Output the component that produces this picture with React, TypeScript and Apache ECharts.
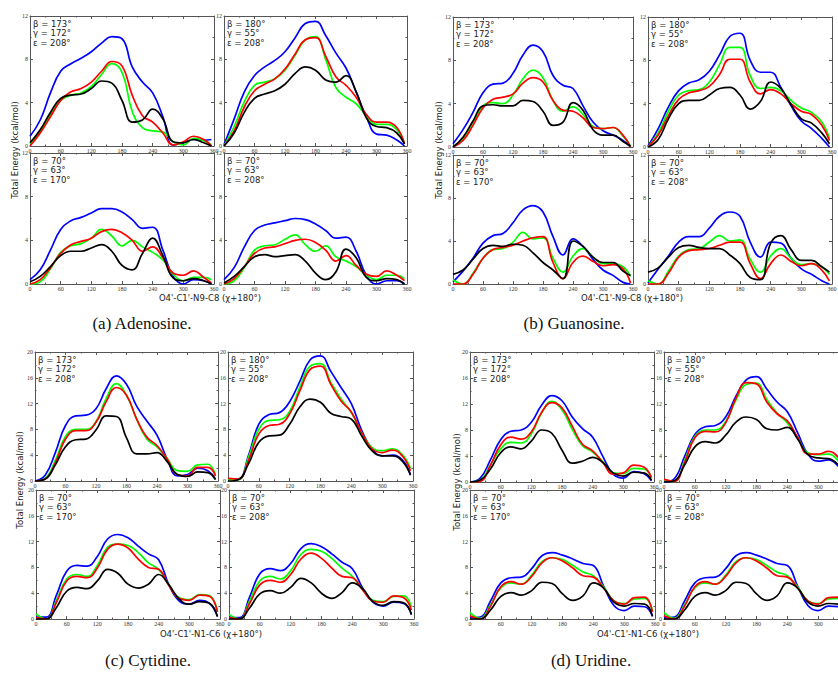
import React, { useEffect, useRef } from "react";
import * as echarts from "echarts";

// x positions (degrees, chi+180)
const chi = [0, 20, 40, 60, 80, 100, 120, 140, 160, 180, 200, 220, 240, 260, 280, 300, 320, 340, 355];

// ---------- (a) Adenosine ----------
const aTLBlue = [0.9, 2.4, 4.9, 6.9, 7.6, 8.1, 8.7, 9.5, 10.1, 9.9, 7.3, 5.9, 4.9, 2.7, 0.1, 0.3, 0.6, 0.55, 0.6];
const aTLGreen = [0.2, 1.3, 2.9, 4.2, 4.7, 4.9, 5.5, 6.6, 7.6, 6.8, 3.2, 1.7, 1.4, 1.3, 0.4, 0.1, 0.7, 0.5, 0.1];
const aTLRed = [0.0, 1.2, 2.7, 4.2, 5.0, 5.3, 5.9, 6.9, 7.8, 7.4, 4.7, 2.8, 2.2, 1.2, 0.1, 0.4, 0.9, 0.6, 0.0];
const aTLBlack = [0.3, 1.5, 3.1, 4.4, 4.7, 4.8, 5.3, 6.0, 5.8, 4.2, 2.2, 2.4, 3.4, 2.5, 0.4, 0.3, 0.6, 0.3, 0.0];

const aTRBlue = [0.1, 2.5, 5.0, 6.5, 7.3, 7.9, 8.7, 10.0, 11.3, 11.5, 10.2, 8.6, 7.2, 5.0, 2.7, 1.1, 1.0, 0.55, 0.0];
const aTRGreen = [0.0, 1.8, 4.1, 5.6, 5.9, 6.2, 7.0, 8.4, 9.8, 10.1, 8.0, 5.4, 4.5, 3.9, 2.8, 2.0, 2.0, 1.5, 0.2];
const aTRRed = [0.0, 1.4, 3.6, 5.1, 5.7, 6.2, 7.1, 8.5, 9.8, 10.0, 8.3, 6.4, 5.6, 4.5, 2.9, 2.2, 2.2, 1.7, 0.2];
const aTRBlack = [0.0, 1.2, 3.1, 4.4, 4.8, 5.1, 5.7, 6.7, 7.3, 7.0, 6.1, 5.9, 6.5, 5.0, 2.6, 1.8, 1.7, 1.2, 0.2];

const aBLBlue = [0.4, 1.3, 3.1, 5.0, 5.8, 6.1, 6.5, 6.9, 6.9, 6.6, 5.9, 5.1, 5.2, 3.1, 0.7, 0.0, 0.4, 0.3, 0.0];
const aBLGreen = [0.0, 0.2, 1.4, 2.9, 3.5, 3.7, 4.2, 5.0, 4.4, 3.5, 4.0, 3.4, 2.9, 2.2, 0.9, 0.3, 0.6, 0.6, 0.4];
const aBLRed = [0.0, 0.4, 1.5, 2.8, 3.6, 3.9, 4.2, 4.8, 5.0, 4.7, 4.0, 3.0, 3.4, 2.4, 1.0, 0.8, 1.2, 0.6, 0.1];
const aBLBlack = [0.2, 0.7, 1.6, 2.6, 3.0, 3.0, 3.3, 3.6, 3.0, 1.7, 1.3, 2.8, 4.2, 2.6, 0.55, 0.3, 0.5, 0.3, 0.0];

const aBRBlue = [0.4, 1.5, 3.4, 4.9, 5.4, 5.6, 5.8, 6.0, 5.9, 5.5, 4.9, 4.2, 4.3, 3.0, 0.8, 0.0, 0.3, 0.3, 0.0];
const aBRGreen = [0.0, 0.3, 1.5, 3.1, 3.5, 3.6, 4.1, 4.5, 3.6, 3.0, 3.5, 2.5, 2.1, 1.6, 0.8, 0.4, 0.8, 0.8, 0.5];
const aBRRed = [0.0, 0.5, 1.6, 2.8, 3.3, 3.4, 3.7, 4.0, 4.1, 3.8, 3.1, 2.1, 2.6, 1.7, 0.9, 0.7, 1.2, 0.8, 0.3];
const aBRBlack = [0.1, 0.7, 1.6, 2.5, 2.7, 2.5, 2.6, 2.7, 2.1, 1.0, 0.4, 1.1, 3.2, 2.4, 0.6, 0.3, 0.5, 0.4, 0.0];

// ---------- (b) Guanosine ----------
const bTLBlue = [0.3, 1.6, 3.2, 5.0, 5.8, 5.9, 6.8, 8.5, 9.4, 8.8, 6.6, 5.7, 5.4, 3.8, 2.3, 1.5, 1.1, 0.6, 0.0];
const bTLGreen = [0.0, 0.8, 2.3, 3.8, 4.1, 4.0, 4.8, 6.3, 7.1, 6.4, 4.3, 3.3, 3.7, 3.0, 1.9, 1.7, 1.8, 1.0, 0.1];
const bTLRed = [0.0, 0.6, 2.0, 3.6, 4.4, 4.6, 4.9, 5.9, 6.4, 6.0, 4.3, 3.4, 3.3, 2.7, 1.8, 1.7, 1.8, 1.1, 0.0];
const bTLBlack = [0.0, 0.9, 2.4, 3.8, 3.9, 3.8, 3.8, 4.3, 4.2, 3.3, 2.0, 2.3, 4.1, 3.4, 1.6, 1.1, 1.1, 0.5, 0.1];

const bTRBlue = [0.1, 1.7, 3.7, 5.2, 5.9, 6.2, 7.0, 8.5, 10.2, 10.5, 8.0, 6.9, 6.9, 5.5, 3.8, 2.4, 1.7, 0.8, 0.0];
const bTRGreen = [0.0, 1.3, 3.3, 4.8, 5.2, 5.3, 6.0, 7.6, 9.2, 9.2, 6.6, 5.4, 5.5, 5.2, 4.3, 3.6, 3.2, 2.3, 0.8];
const bTRRed = [0.0, 1.1, 2.9, 4.4, 5.0, 5.2, 5.6, 6.7, 8.1, 8.1, 6.0, 4.9, 5.3, 4.9, 4.0, 3.3, 3.0, 2.0, 0.6];
const bTRBlack = [0.0, 0.7, 2.6, 4.0, 4.3, 4.3, 4.8, 5.4, 5.5, 4.8, 3.5, 4.2, 6.0, 5.4, 3.9, 2.6, 2.2, 1.3, 0.3];

const bBLBlue = [0.2, 1.2, 2.4, 3.8, 4.5, 4.7, 5.7, 6.9, 7.3, 6.7, 4.4, 2.7, 4.2, 3.5, 2.3, 1.3, 0.8, 0.15, 0.0];
const bBLGreen = [0.4, 0.0, 1.0, 2.4, 3.2, 3.3, 3.9, 4.8, 4.2, 4.3, 2.4, 1.1, 2.6, 3.3, 2.5, 1.9, 1.9, 1.6, 0.7];
const bBLRed = [0.0, 0.0, 0.9, 2.4, 3.2, 3.4, 3.6, 4.0, 4.3, 4.4, 2.0, 0.5, 2.0, 2.6, 2.1, 1.7, 1.8, 1.4, 0.1];
const bBLBlack = [0.9, 1.3, 2.3, 3.3, 3.6, 3.5, 3.7, 3.6, 2.9, 2.0, 1.3, 0.5, 4.0, 3.5, 2.5, 2.0, 2.0, 1.2, 0.8];

const bBRBlue = [0.1, 1.4, 2.6, 3.9, 4.4, 4.4, 5.2, 6.3, 6.7, 6.3, 3.9, 2.5, 3.9, 3.8, 2.4, 1.4, 0.9, 0.3, 0.0];
const bBRGreen = [0.3, 0.0, 1.2, 2.6, 3.2, 3.3, 3.9, 4.5, 4.0, 4.1, 2.3, 1.1, 2.6, 3.3, 2.4, 1.8, 1.9, 1.6, 0.9];
const bBRRed = [0.0, 0.0, 1.0, 2.5, 3.1, 3.2, 3.3, 3.6, 3.9, 3.9, 1.9, 0.5, 1.9, 2.7, 2.1, 1.7, 1.9, 1.3, 0.3];
const bBRBlack = [1.1, 1.5, 2.5, 3.4, 3.6, 3.4, 3.3, 3.3, 2.7, 1.9, 0.6, 0.4, 3.8, 4.5, 3.2, 2.2, 2.2, 1.6, 1.1];

// ---------- (c) Cytidine ----------
const cTLBlue = [0.0, 0.9, 4.4, 8.6, 10.1, 10.2, 11.2, 14.3, 16.3, 15.0, 11.6, 9.3, 7.1, 3.4, 0.8, 1.0, 2.0, 1.6, 0.3];
const cTLGreen = [0.0, 0.4, 3.2, 6.9, 8.0, 8.0, 9.2, 12.8, 15.1, 13.3, 9.6, 6.5, 5.3, 3.5, 1.6, 1.5, 2.5, 2.6, 0.9];
const cTLRed = [0.0, 0.3, 2.8, 6.5, 7.8, 7.8, 9.1, 12.3, 14.5, 13.3, 9.6, 6.8, 5.5, 3.4, 1.0, 0.8, 2.1, 2.1, 0.8];
const cTLBlack = [0.0, 0.3, 2.5, 5.3, 6.4, 6.5, 7.9, 10.1, 10.0, 6.7, 4.2, 4.2, 4.4, 3.0, 1.0, 0.7, 1.4, 1.3, 0.2];

const cTRBlue = [0.3, 0.3, 4.0, 8.8, 10.3, 10.6, 12.3, 15.5, 18.8, 19.4, 17.0, 14.5, 12.0, 7.9, 5.0, 3.9, 4.0, 3.2, 1.0];
const cTRGreen = [0.2, 0.2, 3.7, 8.0, 9.4, 9.5, 10.8, 14.6, 17.8, 18.2, 15.3, 12.7, 10.6, 7.5, 5.2, 4.7, 5.0, 4.0, 2.0];
const cTRRed = [0.4, 0.3, 3.2, 7.3, 8.6, 8.8, 10.4, 14.0, 17.3, 17.8, 15.0, 12.4, 10.7, 7.5, 5.0, 4.4, 4.8, 3.8, 1.6];
const cTRBlack = [0.0, 0.2, 2.7, 6.0, 7.0, 7.1, 8.8, 11.5, 12.7, 12.2, 10.5, 10.0, 9.6, 7.0, 4.7, 3.9, 3.9, 3.0, 0.9];

const cBLBlue = [0.3, 0.3, 3.7, 7.4, 8.3, 8.2, 9.7, 12.4, 13.1, 12.6, 11.3, 10.1, 9.2, 5.3, 2.8, 2.3, 2.9, 2.4, 0.4];
const cBLGreen = [0.8, 0.0, 2.9, 6.2, 6.9, 6.6, 8.3, 11.1, 11.6, 11.4, 10.3, 8.7, 7.7, 5.3, 3.3, 3.0, 3.8, 3.6, 1.2];
const cBLRed = [0.2, 0.0, 2.6, 5.9, 6.6, 6.4, 7.9, 10.8, 11.6, 11.0, 9.3, 8.0, 7.7, 5.2, 3.2, 2.9, 3.7, 3.5, 1.1];
const cBLBlack = [0.0, 0.0, 1.8, 4.3, 4.9, 4.7, 5.9, 7.7, 7.1, 5.4, 4.8, 5.4, 6.9, 5.3, 3.1, 2.3, 2.7, 2.4, 0.4];

const cBRBlue = [0.3, 0.2, 3.4, 7.0, 7.8, 7.5, 8.6, 10.9, 11.7, 11.2, 10.1, 8.8, 7.8, 4.8, 2.6, 2.0, 2.6, 2.4, 0.7];
const cBRGreen = [0.7, 0.0, 2.8, 5.9, 6.6, 6.2, 7.5, 10.0, 10.8, 10.5, 9.4, 7.9, 6.6, 4.6, 2.9, 2.7, 3.5, 3.6, 1.9];
const cBRRed = [0.2, 0.0, 2.4, 5.3, 6.0, 5.7, 6.9, 9.3, 10.2, 9.4, 7.9, 6.6, 6.4, 4.5, 2.8, 2.6, 3.6, 3.3, 1.4];
const cBRBlack = [0.0, 0.0, 1.7, 3.9, 4.4, 4.0, 4.9, 6.3, 5.6, 4.0, 3.2, 4.1, 5.6, 4.7, 2.7, 2.1, 2.7, 2.5, 0.7];

// ---------- (d) Uridine ----------
const dTLBlue = [0.0, 0.6, 3.4, 6.5, 7.8, 8.0, 9.2, 11.8, 13.3, 12.5, 10.0, 8.2, 6.9, 3.9, 1.2, 0.6, 1.6, 1.3, 0.2];
const dTLGreen = [0.0, 0.3, 2.6, 5.1, 6.1, 6.0, 7.4, 10.6, 12.4, 11.1, 8.1, 5.6, 4.6, 3.1, 1.4, 1.3, 2.1, 2.0, 0.7];
const dTLRed = [0.0, 0.1, 2.6, 5.7, 6.9, 6.6, 7.7, 10.7, 12.2, 11.4, 8.6, 5.8, 4.8, 3.0, 1.2, 1.4, 2.6, 2.3, 0.7];
const dTLBlack = [0.0, 0.3, 2.0, 4.5, 5.4, 5.1, 6.3, 8.0, 7.5, 4.9, 2.9, 3.2, 3.8, 3.0, 1.4, 0.9, 1.5, 1.4, 0.3];

const dTRBlue = [0.0, 0.5, 3.9, 7.3, 8.5, 8.7, 10.0, 13.2, 15.7, 16.2, 14.3, 12.3, 10.8, 7.6, 4.3, 3.2, 3.4, 2.4, 1.0];
const dTRGreen = [0.3, 0.1, 3.3, 7.0, 8.0, 8.0, 9.3, 12.6, 15.0, 15.2, 12.7, 10.6, 9.1, 6.8, 4.5, 4.2, 4.3, 3.2, 1.5];
const dTRRed = [0.4, 0.1, 3.0, 6.8, 7.8, 7.7, 9.1, 12.9, 15.3, 15.1, 12.3, 10.5, 9.4, 6.9, 4.3, 4.3, 4.7, 3.7, 1.6];
const dTRBlack = [0.0, 0.2, 2.6, 5.4, 6.2, 6.0, 7.2, 9.2, 10.0, 9.6, 8.2, 8.0, 8.4, 6.6, 4.2, 3.7, 3.6, 2.6, 1.0];

const dBLBlue = [0.2, 0.3, 2.8, 5.6, 6.4, 6.5, 7.8, 9.8, 10.3, 9.9, 9.3, 8.6, 8.3, 5.1, 2.1, 1.3, 2.0, 1.9, 0.4];
const dBLGreen = [1.0, 0.1, 2.2, 4.8, 5.6, 5.4, 6.8, 8.9, 9.5, 9.2, 8.3, 7.3, 6.7, 5.0, 2.8, 2.4, 3.1, 3.2, 1.3];
const dBLRed = [0.5, 0.0, 2.0, 5.0, 5.8, 5.4, 6.6, 8.7, 9.5, 9.0, 7.9, 6.7, 6.5, 4.8, 2.8, 2.3, 3.3, 3.4, 1.1];
const dBLBlack = [0.0, 0.0, 1.4, 3.5, 4.1, 3.7, 4.4, 5.7, 5.5, 3.9, 2.9, 3.6, 5.6, 4.8, 2.6, 2.0, 2.4, 2.3, 0.5];

// the (d) lower-right plot repeats the lower-left one
const dBRBlue = dBLBlue;
const dBRGreen = dBLGreen;
const dBRRed = dBLRed;
const dBRBlack = dBLBlack;

// parameter labels
const labelTL = ["β = 173°", "γ = 172°", "ε = 208°"];
const labelTR = ["β = 180°", "γ = 55°", "ε = 208°"];
const labelBL = ["β = 70°", "γ = 63°", "ε = 170°"];
const labelBR = ["β = 70°", "γ = 63°", "ε = 208°"];

const COLORS = ["#0000ff", "#00ff00", "#ff0000", "#000000"];

type Sub = { rect: number[]; ymax: number; label: string[]; lines: number[][]; cut?: boolean };

const subs: Sub[] = [
  // (a)
  { rect: [30, 16, 184, 130], ymax: 12, label: labelTL, lines: [aTLBlue, aTLGreen, aTLRed, aTLBlack] },
  { rect: [224, 16, 183, 130], ymax: 12, label: labelTR, lines: [aTRBlue, aTRGreen, aTRRed, aTRBlack] },
  { rect: [30, 153, 184, 131], ymax: 12, label: labelBL, lines: [aBLBlue, aBLGreen, aBLRed, aBLBlack] },
  { rect: [224, 153, 183, 131], ymax: 12, label: labelBR, lines: [aBRBlue, aBRGreen, aBRRed, aBRBlack] },
  // (b)
  { rect: [453, 17, 180, 130], ymax: 12, label: labelTL, lines: [bTLBlue, bTLGreen, bTLRed, bTLBlack] },
  { rect: [648, 17, 184, 130], ymax: 12, label: labelTR, lines: [bTRBlue, bTRGreen, bTRRed, bTRBlack] },
  { rect: [453, 155, 180, 129], ymax: 12, label: labelBL, lines: [bBLBlue, bBLGreen, bBLRed, bBLBlack] },
  { rect: [648, 155, 184, 129], ymax: 12, label: labelBR, lines: [bBRBlue, bBRGreen, bBRRed, bBRBlack] },
  // (c)
  { rect: [35, 352, 183, 129], ymax: 20, label: labelTL, lines: [cTLBlue, cTLGreen, cTLRed, cTLBlack] },
  { rect: [228, 352, 185, 129], ymax: 20, label: labelTR, lines: [cTRBlue, cTRGreen, cTRRed, cTRBlack] },
  { rect: [36, 490, 184, 129], ymax: 20, label: labelBL, lines: [cBLBlue, cBLGreen, cBLRed, cBLBlack] },
  { rect: [229, 490, 185, 129], ymax: 20, label: labelBR, lines: [cBRBlue, cBRGreen, cBRRed, cBRBlack] },
  // (d)
  { rect: [470, 352, 184, 130], ymax: 20, label: labelTL, lines: [dTLBlue, dTLGreen, dTLRed, dTLBlack] },
  { rect: [664, 352, 185, 130], ymax: 20, label: labelTR, lines: [dTRBlue, dTRGreen, dTRRed, dTRBlack], cut: true },
  { rect: [470, 490, 185, 129], ymax: 20, label: labelBL, lines: [dBLBlue, dBLGreen, dBLRed, dBLBlack] },
  { rect: [664, 490, 185, 129], ymax: 20, label: labelBR, lines: [dBRBlue, dBRGreen, dBRRed, dBRBlack], cut: true },
];

const AX = "#555";
const tickFont = { fontSize: 6, color: "#333", fontFamily: "Liberation Serif" };

function buildOption() {
  const grid: any[] = [];
  const xAxis: any[] = [];
  const yAxis: any[] = [];
  const series: any[] = [];
  const graphic: any[] = [];

  subs.forEach((s, g) => {
    const [l, t, w, h] = s.rect;
    grid.push({ left: l, top: t, width: w, height: h, containLabel: false, outerBoundsMode: "none" });
    const xBase = {
      gridIndex: g,
      type: "value",
      min: 0,
      max: 360,
      interval: 60,
      splitLine: { show: false },
      axisLine: { show: true, onZero: false, lineStyle: { color: AX, width: 1 } },
      axisTick: { show: true, inside: true, length: 3, lineStyle: { color: AX } },
      minorTick: { show: true, splitNumber: 2, length: 1.5, lineStyle: { color: AX } },
    };
    xAxis.push({
      ...xBase,
      position: "bottom",
      axisLabel: { ...tickFont, margin: 2, showMinLabel: true, showMaxLabel: !s.cut, hideOverlap: false },
    });
    xAxis.push({ ...xBase, position: "top", axisLabel: { show: false } });
    const yBase = {
      gridIndex: g,
      type: "value",
      min: 0,
      max: s.ymax,
      interval: 4,
      splitLine: { show: false },
      axisLine: { show: true, onZero: false, lineStyle: { color: AX, width: 1 } },
      axisTick: { show: true, inside: true, length: 3, lineStyle: { color: AX } },
      minorTick: { show: true, splitNumber: 2, length: 1.5, lineStyle: { color: AX } },
    };
    yAxis.push({
      ...yBase,
      position: "left",
      axisLabel: { ...tickFont, margin: 2, showMinLabel: true, showMaxLabel: true },
    });
    yAxis.push({ ...yBase, position: "right", axisLabel: { show: false } });

    s.lines.forEach((vals, k) => {
      series.push({
        type: "line",
        xAxisIndex: g * 2,
        yAxisIndex: g * 2,
        data: chi.map((x, i) => [x, vals[i]]),
        smooth: 0.45,
        symbol: "none",
        clip: true,
        lineStyle: { color: COLORS[k], width: 1.7 },
        z: 2 + k,
      });
    });

    graphic.push({
      type: "text",
      x: l + 3,
      y: t + 3,
      z: 50,
      style: {
        text: s.label.join("\n"),
        fontSize: 8.5,
        lineHeight: 9.5,
        fontFamily: "DejaVu Sans",
        fill: "#222",
        align: "left",
        verticalAlign: "top",
      },
    });
  });

  const axisTitle = (x: number, y: number, text: string) => ({
    type: "text",
    x,
    y,
    style: { text, fontSize: 8.5, fontFamily: "DejaVu Sans", fill: "#222", align: "center", verticalAlign: "middle" },
  });
  const yTitle = (x: number, y: number) => ({
    type: "text",
    x,
    y,
    rotation: Math.PI / 2,
    style: {
      text: "Total Energy (kcal/mol)",
      fontSize: 8.5,
      fontFamily: "DejaVu Sans",
      fill: "#222",
      align: "center",
      verticalAlign: "middle",
    },
  });
  const caption = (x: number, y: number, text: string) => ({
    type: "text",
    x,
    y,
    style: { text, fontSize: 17, fontFamily: "Liberation Serif", fill: "#111", align: "center", verticalAlign: "middle" },
  });

  graphic.push(axisTitle(210, 298, "O4'-C1'-N9-C8 (χ+180°)"));
  graphic.push(axisTitle(632, 298, "O4'-C1'-N9-C8 (χ+180°)"));
  graphic.push(axisTitle(211, 634, "O4'-C1'-N1-C6 (χ+180°)"));
  graphic.push(axisTitle(648, 634, "O4'-C1'-N1-C6 (χ+180°)"));
  graphic.push(yTitle(15, 150));
  graphic.push(yTitle(439, 150));
  graphic.push(yTitle(20, 480));
  graphic.push(yTitle(457, 482));
  graphic.push(caption(142, 323, "(a) Adenosine."));
  graphic.push(caption(574, 323, "(b) Guanosine."));
  graphic.push(caption(148, 660, "(c) Cytidine."));
  graphic.push(caption(591, 660, "(d) Uridine."));

  return {
    animation: false,
    backgroundColor: "#ffffff",
    grid,
    xAxis,
    yAxis,
    series,
    graphic: { elements: graphic },
  };
}

export default function App() {
  const ref = useRef<HTMLDivElement>(null);
  useEffect(() => {
    if (!ref.current) return;
    const chart = echarts.init(ref.current, undefined, { renderer: "svg" });
    chart.setOption(buildOption() as any);
    return () => chart.dispose();
  }, []);
  return (
    <div
      ref={ref}
      style={{ position: "fixed", left: 0, top: 0, width: 838, height: 678, background: "#fff" }}
    />
  );
}
